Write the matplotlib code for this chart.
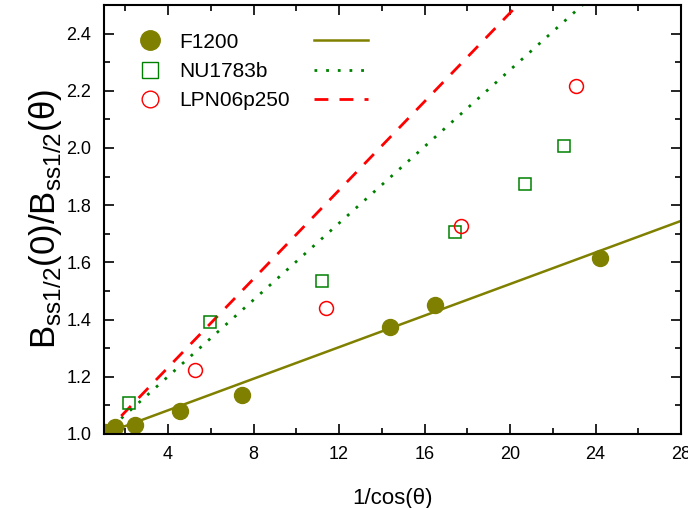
import matplotlib
matplotlib.use("Agg")
import matplotlib.pyplot as plt
import numpy as np
from matplotlib.lines import Line2D
from matplotlib.ticker import MultipleLocator

plt.rcParams["font.family"] = ["Liberation Sans", "DejaVu Sans"]

# data
f1200_x = [1.03, 1.51, 2.44, 4.55, 7.48, 14.4, 16.5, 24.2]
f1200_y = [1.008, 1.025, 1.031, 1.081, 1.138, 1.373, 1.451, 1.615]
nu_x = [2.17, 5.98, 11.2, 17.4, 20.7, 22.5]
nu_y = [1.110, 1.390, 1.534, 1.705, 1.873, 2.006]
lpn_x = [5.28, 11.4, 17.7, 23.1]
lpn_y = [1.222, 1.440, 1.728, 2.218]

# linear fits: (intercept, slope)
f1200_fit = (0.9724, 0.0276)
nu_fit = (0.933, 0.0670)
lpn_fit = (0.9225, 0.0775)

labels = ["F1200", "NU1783b", "LPN06p250"]
c_olive = "#808000"
c_green = "#008000"
c_red = "#ff0000"

fig = plt.figure(figsize=(6.88, 5.08), dpi=100)
ax = fig.add_axes([0.151, 0.1457, 0.839, 0.8445])

xx = np.linspace(1, 28, 200)
ax.plot(xx, f1200_fit[0] + f1200_fit[1] * xx, color=c_olive, lw=1.8)
ax.plot(xx, nu_fit[0] + nu_fit[1] * xx, color=c_green, lw=2, ls=(0, (1, 3.2)))
ax.plot(xx, lpn_fit[0] + lpn_fit[1] * xx, color=c_red, lw=2, ls=(0, (5, 4)))

ax.plot(f1200_x, f1200_y, "o", color=c_olive, ms=11.5, ls="none")
ax.plot(nu_x, nu_y, "s", mfc="none", mec=c_green, mew=1.1, ms=9, ls="none")
ax.plot(lpn_x, lpn_y, "o", mfc="none", mec=c_red, mew=1.1, ms=10, ls="none")

ax.set_xlim(1, 28)
ax.set_ylim(1.0, 2.5)
ax.xaxis.set_major_locator(MultipleLocator(4))
ax.xaxis.set_minor_locator(MultipleLocator(2))
ax.yaxis.set_major_locator(MultipleLocator(0.2))
ax.yaxis.set_minor_locator(MultipleLocator(0.1))
ax.set_xticks([4, 8, 12, 16, 20, 24, 28])
ax.tick_params(which="both", direction="in", top=True, right=True,
               labelsize=13, width=1.2)
ax.tick_params(which="major", length=7, pad=9)
ax.tick_params(which="minor", length=4)
ax.yaxis.set_major_formatter(matplotlib.ticker.FormatStrFormatter("%.1f"))
for s in ax.spines.values():
    s.set_linewidth(1.5)

ax.set_xlabel("1/cos(θ)", fontsize=16, labelpad=18)
ax.set_ylabel(r"B$_{\mathregular{ss1/2}}$(0)/B$_{\mathregular{ss1/2}}$(θ)",
              fontsize=25, labelpad=2)

mk_handles = [
    Line2D([], [], marker="o", color=c_olive, ls="none", ms=14),
    Line2D([], [], marker="s", mfc="none", mec=c_green, ls="none", ms=11),
    Line2D([], [], marker="o", mfc="none", mec=c_red, ls="none", ms=12),
]
leg1 = ax.legend(mk_handles, labels, loc="upper left", frameon=False,
                 fontsize=15, bbox_to_anchor=(0.03, 0.955), handletextpad=0.4,
                 labelspacing=0.5, borderaxespad=0)
ax.add_artist(leg1)
ln_handles = [
    Line2D([], [], color=c_olive, lw=1.8),
    Line2D([], [], color=c_green, lw=2, ls=(0, (1, 3.2))),
    Line2D([], [], color=c_red, lw=2, ls=(0, (5, 4))),
]
ax.legend(ln_handles, ["", "", ""], loc="upper left", frameon=False,
          fontsize=15, bbox_to_anchor=(0.35, 0.955), handlelength=2.6,
          labelspacing=0.5, borderaxespad=0, handletextpad=0)

fig.savefig("out.png", dpi=100)
